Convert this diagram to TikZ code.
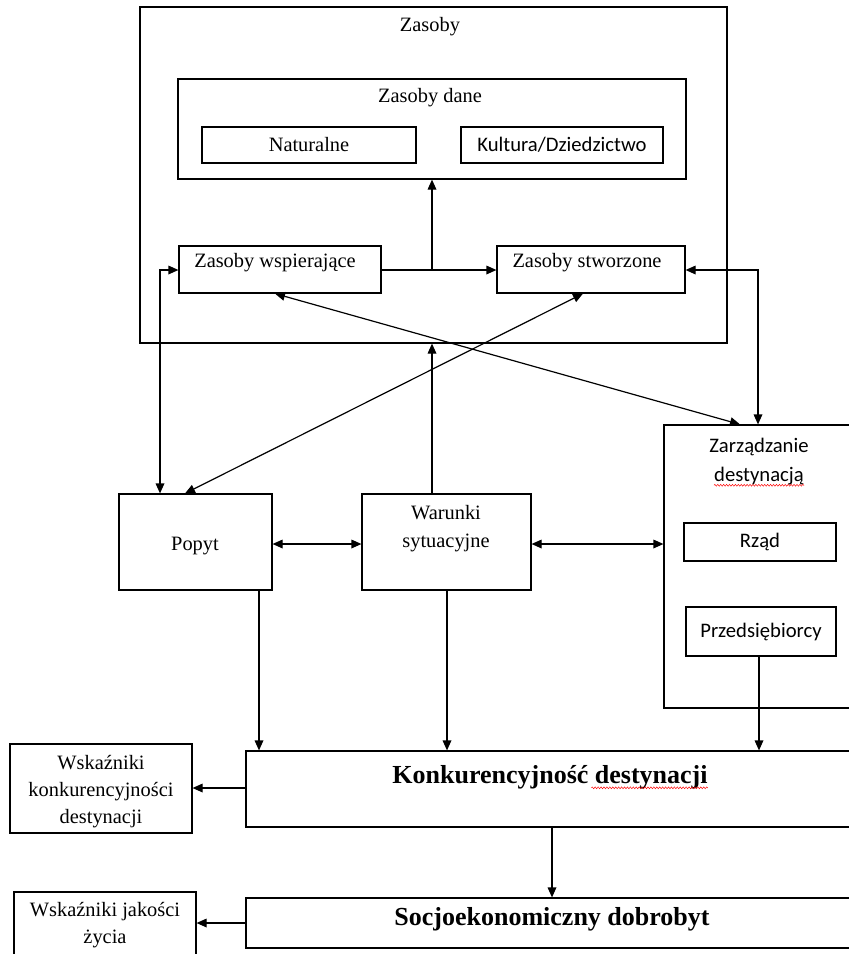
\documentclass[tikz,border=0pt]{standalone}
\usepackage{fontspec}
\setmainfont{Liberation Serif}
\newfontfamily\carlito{Carlito}
\usetikzlibrary{arrows.meta,fit,decorations.pathmorphing}

\begin{document}
\begin{tikzpicture}[x=0.75pt,y=-0.75pt,
  box/.style={draw,line width=0.9pt,inner sep=0pt,fit={#1}},
  txt/.style={inner sep=0pt,font=\fontsize{15.3}{20.25}\selectfont},
  stxt/.style={inner sep=0pt,font=\carlito\fontsize{15.5}{19}\selectfont},
  btxt/.style={inner sep=0pt,font=\fontsize{19.5}{23}\selectfont\bfseries},
  tip/.tip={Triangle[length=7.5pt,width=6.5pt]},
  conn/.style={line width=0.9pt,-tip},
  bconn/.style={line width=0.9pt,tip-tip},
  spell/.style={red,line width=0.35pt,decorate,decoration={snake,segment length=2.2pt,amplitude=0.7pt}}]
\useasboundingbox (0,0) rectangle (849,954);
\clip (0,0) rectangle (849,954);

% resources block
\node[box={(140,7) (727,343)}] (zasoby) {};
\node[txt] (zasobyT) at (430,27) {Zasoby};
\node[box={(178,79) (686,179)}] (dane) {};
\node[txt] (daneT) at (430,98) {Zasoby dane};
\node[box={(202,127) (416,163)}] (natur) {};
\node[txt] (naturT) at (natur.center) {Naturalne};
\node[box={(461,127) (663,163)}] (kult) {};
\node[stxt] (kultT) at (kult.center) {Kultura/Dziedzictwo};
\node[box={(179,246) (381,293)}] (wsp) {};
\node[txt] (wspT) at (275,263) {Zasoby wspierające};
\node[box={(497,246) (685,293)}] (stw) {};
\node[txt] (stwT) at (587,263) {Zasoby stworzone};

% middle row
\node[box={(119,494) (272,590)}] (popyt) {};
\node[txt] (popytT) at (195,546) {Popyt};
\node[box={(362,494) (531,590)}] (war) {};
\node[txt] (warT1) at (446,513) {Warunki};
\node[txt] (warT2) at (446,543) {sytuacyjne};
\node[box={(664,425) (860,708)}] (zarz) {};
\node[stxt] (zarzT1) at (759,447) {Zarządzanie};
\node[stxt,anchor=base] (zarzT2) at (759,481) {destynacją};
\node[box={(684,523) (836,561)}] (rzad) {};
\node[stxt] (rzadT) at (rzad.center) {Rząd};
\node[box={(686,607) (836,656)}] (przed) {};
\node[stxt] (przedT) at (przed.center) {Przedsiębiorcy};

% outcome boxes
\node[box={(246,751) (860,827)}] (konk) {};
\node[btxt,anchor=base] (konkT) at (550,783) {Konkurencyjność destynacji};
\node[box={(246,898) (860,948)}] (socjo) {};
\node[btxt,anchor=base] (socjoT) at (552,925) {Socjoekonomiczny dobrobyt};
\node[box={(10,744) (192,833)}] (wskk) {};
\node[txt,align=center] (wskkT) at (101,792) {Wskaźniki\\konkurencyjności\\destynacji};
\node[box={(14,892) (196,965)}] (wskj) {};
\node[txt,align=center] (wskjT) at (105,925) {Wskaźniki jakości\\życia};

% spell-check underlines
\draw[spell] ([yshift=-3.2pt]zarzT2.base west) -- ([yshift=-3.2pt]zarzT2.base east);
\draw[spell] ([xshift=1pt,yshift=-3.6pt]konkT.base east -| 590,0) -- ([yshift=-3.6pt]konkT.base east);

% helper columns and rows
\coordinate (cJ) at (432,0);
\coordinate (cL) at (160,0);
\coordinate (cR) at (758,0);
\coordinate (cP) at (259,0);
\coordinate (cW) at (447,0);
\coordinate (cZ) at (759,0);
\coordinate (cK) at (552,0);
\coordinate (rA) at (0,270);
\coordinate (rB) at (0,544);
\coordinate (rC) at (0,788);
\coordinate (rD) at (0,923);
\coordinate (dW) at (275,0);
\coordinate (dS) at (583,0);
\coordinate (dZ) at (740,0);
\coordinate (dP) at (185,0);

% connectors inside the resources block
\draw[conn] (wsp.east |- rA) -- (stw.west |- rA);
\draw[conn] (cJ |- rA) -- (cJ |- dane.south);
\draw[bconn] (stw.east |- rA) -| (cR |- zarz.north);
\draw[bconn] (wsp.west |- rA) -| (cL |- popyt.north);
\draw[bconn] (dW |- wsp.south) -- (dZ |- zarz.north);
\draw[bconn] (dS |- stw.south) -- (dP |- popyt.north);

% middle row links
\draw[bconn] (popyt.east |- rB) -- (war.west |- rB);
\draw[bconn] (war.east |- rB) -- (zarz.west |- rB);
\draw[conn] (cJ |- war.north) -- (cJ |- zasoby.south);

% into competitiveness and welfare
\draw[conn] (cP |- popyt.south) -- (cP |- konk.north);
\draw[conn] (cW |- war.south) -- (cW |- konk.north);
\draw[conn] (cZ |- przed.south) -- (cZ |- konk.north);
\draw[conn] (konk.west |- rC) -- (wskk.east |- rC);
\draw[conn] (cK |- konk.south) -- (cK |- socjo.north);
\draw[conn] (socjo.west |- rD) -- (wskj.east |- rD);
\end{tikzpicture}
\end{document}
